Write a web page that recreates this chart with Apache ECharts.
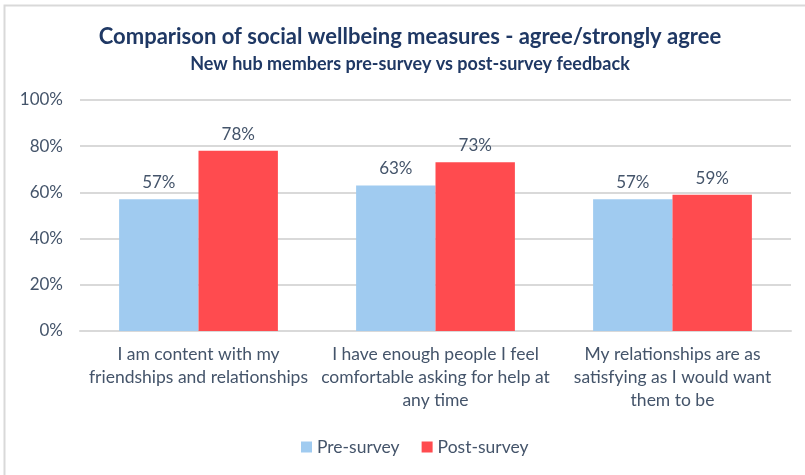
<!DOCTYPE html>
<html>
<head>
<meta charset="utf-8">
<script src="https://cdn.jsdelivr.net/npm/echarts@6/dist/echarts.min.js"></script>
<style>
  html, body { margin: 0; padding: 0; background: #fff; }
  #chart { width: 805px; height: 475px; }
</style>
</head>
<body>
<div id="chart"></div>
<script>
// Survey questions (line breaks as laid out under each group)
const categories = [
  'I am content with my\nfriendships and relationships',
  'I have enough people I feel\ncomfortable asking for help at\nany time',
  'My relationships are as\nsatisfying as I would want\nthem to be'
];
const seriesNames = ['Pre-survey', 'Post-survey'];
const preSurvey = [57, 63, 57];
const postSurvey = [78, 73, 59];
const yTicks = [0, 20, 40, 60, 80, 100];

const FONT = 'Lato, "Open Sans", sans-serif';
const TEXT = '#44546A';

const chart = echarts.init(document.getElementById('chart'), null, { renderer: 'canvas' });

const valueLabel = {
  show: true,
  position: 'top',
  distance: 8,
  fontFamily: FONT,
  fontSize: 17,
  color: TEXT,
  formatter: p => p.value + '%'
};

chart.setOption({
  animation: false,
  backgroundColor: '#fff',
  graphic: [{
    type: 'rect',
    shape: { x: 4.5, y: 5.5, width: 900, height: 600 },
    style: { fill: 'none', stroke: '#d9d9d9', lineWidth: 2 },
    silent: true
  }],
  title: {
    text: 'Comparison of social wellbeing measures - agree/strongly agree',
    subtext: 'New hub members pre-survey vs post-survey feedback',
    left: 405,
    top: 21,
    textAlign: 'center',
    itemGap: 7,
    textStyle: { fontFamily: FONT, fontWeight: 'bold', fontSize: 22, color: '#1F3864' },
    subtextStyle: { fontFamily: FONT, fontWeight: 'bold', fontSize: 18, color: '#1F3864' }
  },
  legend: {
    data: seriesNames,
    bottom: 14,
    left: 296,
    itemWidth: 11,
    itemHeight: 11,
    itemGap: 22,
    icon: 'rect',
    textStyle: { fontFamily: FONT, fontSize: 17.5, color: TEXT }
  },
  grid: { left: 80, right: 14, top: 100, bottom: 144 },
  xAxis: {
    type: 'category',
    data: categories,
    axisLine: { lineStyle: { color: '#d9d9d9', width: 2 } },
    axisTick: { show: false },
    axisLabel: {
      interval: 0,
      margin: 12,
      fontFamily: FONT,
      fontSize: 17.5,
      lineHeight: 23,
      color: TEXT,
      align: 'center'
    }
  },
  yAxis: {
    type: 'value',
    min: yTicks[0],
    max: yTicks[yTicks.length - 1],
    interval: yTicks[1] - yTicks[0],
    axisLine: { show: false },
    axisTick: { show: false },
    splitLine: { lineStyle: { color: '#d9d9d9', width: 2 } },
    axisLabel: {
      margin: 17,
      fontFamily: FONT,
      fontSize: 17,
      color: TEXT,
      formatter: v => v + '%'
    }
  },
  series: [
    {
      name: seriesNames[0],
      type: 'bar',
      data: preSurvey,
      barGap: '0%',
      barCategoryGap: '33%',
      itemStyle: { color: '#A0CBF0' },
      label: valueLabel
    },
    {
      name: seriesNames[1],
      type: 'bar',
      data: postSurvey,
      barGap: '0%',
      barCategoryGap: '33%',
      itemStyle: { color: '#FF4B4F' },
      label: valueLabel
    }
  ]
});
</script>
</body>
</html>
